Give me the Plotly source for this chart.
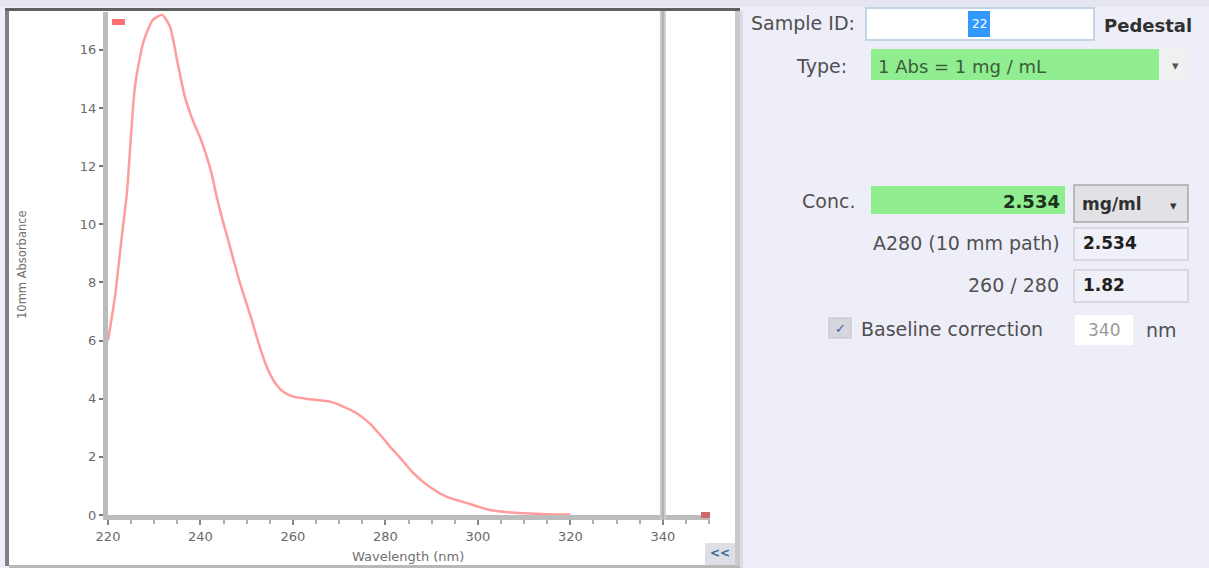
import plotly.graph_objects as go

# ---- data ----
wavelength = [220, 221.5, 223, 224.1, 225.8, 227.6, 229.7, 231.7, 233.4, 235.0, 236.6,
              238.4, 240.0, 241.0, 242.4, 243.5, 244.6, 246.0, 247.1, 248.5, 249.6, 251.1,
              252.1, 253.2, 254.2, 255.2, 256.1, 257.9, 260.1, 263.7, 268.0, 270.9,
              273.8, 276.6, 279.5, 281.0, 283.0, 286.0, 289.6, 293.3, 297.6, 302.6,
              306, 310, 315, 320]
absorbance = [6.0, 7.5, 9.6, 11.1, 14.7, 16.24, 17.03, 17.2, 16.8, 15.6, 14.4,
              13.55, 12.95, 12.5, 11.75, 10.95, 10.25, 9.45, 8.8, 8.0, 7.45, 6.7,
              6.15, 5.6, 5.15, 4.8, 4.55, 4.24, 4.07, 3.98, 3.9, 3.73,
              3.5, 3.15, 2.64, 2.35, 2.0, 1.45, 0.96, 0.62, 0.41, 0.17,
              0.1, 0.06, 0.03, 0.02]
x_ticks = [220, 240, 260, 280, 300, 320, 340]
y_ticks = [0, 2, 4, 6, 8, 10, 12, 14, 16]
x_range = [220, 350.2]
y_range = [0, 17.3]
baseline_nm = 340

panel_labels = ["Sample ID:", "Type:", "Conc.", "A280 (10 mm path)", "260 / 280"]
type_text = "1 Abs = 1 mg / mL"
conc_value = "2.534"
conc_unit = "mg/ml"
a280_value = "2.534"
ratio_value = "1.82"
baseline_text = "Baseline correction"

W, H = 1209, 568
L, R, T, B = 108, 710, 12, 515
FONT = "DejaVu Sans"


def px(x):
    return (x - L) / (R - L)


def py(y):
    return (B - y) / (B - T)


fig = go.Figure()
fig.add_trace(go.Scatter(x=wavelength, y=absorbance, mode="lines",
                         line=dict(color="#ff9c9c", width=2.5, shape="spline", smoothing=0.6),
                         hoverinfo="skip", showlegend=False, cliponaxis=False))

shapes = []


def rect(x0, y0, x1, y1, fill, line_color=None, lw=0, layer="below"):
    shapes.append(dict(type="rect", xref="paper", yref="paper",
                       x0=px(x0), x1=px(x1), y0=py(y1), y1=py(y0),
                       fillcolor=fill, layer=layer,
                       line=dict(color=line_color or fill, width=lw)))


# chart panel
rect(0, 0, 1209, 7, "#e6e6f0")
rect(9, 10, 736, 565, "#ffffff")
rect(5, 8, 9, 566, "#808080")
rect(5, 8, 740, 11, "#606060")
rect(9, 565, 740, 568, "#b8b8b8")
rect(735, 11, 740, 566, "#cacaca")
rect(740, 11, 743, 568, "#dcdce8")
# baseline line at 340 nm
shapes.append(dict(type="line", xref="x", yref="paper", x0=baseline_nm, x1=baseline_nm,
                   y0=py(520), y1=py(11), line=dict(color="#cccccc", width=6), layer="above"))
shapes.append(dict(type="line", xref="x", yref="paper", x0=baseline_nm, x1=baseline_nm,
                   y0=py(520), y1=py(11), line=dict(color="#b0b0b0", width=2), layer="above"))
# red handles
rect(112, 19, 125, 25, "#ff7070", layer="above")
rect(701, 512, 710, 518, "#d06a6a", layer="above")
# << button
rect(705, 543, 735, 565, "#dedee6")

# right panel widgets
rect(866, 8, 1094, 40, "#ffffff", "#c4d4e4", 2)
rect(968, 11, 990, 37, "#3399ff")
rect(871, 49, 1159, 80, "#90ee90")
rect(1161, 49, 1188, 81, "#f0f0f0")
rect(871, 186, 1065, 214, "#90ee90")
rect(1074, 185, 1188, 222, "#e2e2e6", "#a8a8a8", 1.5)
rect(1074, 228, 1188, 260, "#f0f0f8", "#d0d0d8", 1.5)
rect(1074, 270, 1188, 302, "#f0f0f8", "#d0d0d8", 1.5)
rect(829, 318, 851, 338, "#d6d6de", "#c0c0c8", 1)
rect(1075, 315, 1133, 345, "#ffffff")

ann = []


def text(x, y, s, size=19, color="#505050", anchor="left", bold=False, angle=0):
    ann.append(dict(x=px(x), y=py(y), xref="paper", yref="paper", text=(f"<b>{s}</b>" if bold else s),
                    showarrow=False, xanchor=anchor, yanchor="middle", textangle=angle,
                    font=dict(family=FONT, size=size, color=color)))


text(857, 23, panel_labels[0], anchor="right")
text(979, 24, "22", size=12, color="#ffffff", anchor="center")
text(1102, 25, "Pedestal", size=18, color="#303030", bold=True)
text(849, 66, panel_labels[1], anchor="right")
text(876, 66, type_text, size=18, color="#3c5c3c")
text(1175, 65, "▾", size=13, color="#555555", anchor="center")
text(857, 201, panel_labels[2], anchor="right")
text(1062, 201, conc_value, size=18, color="#203020", anchor="right", bold=True)
text(1080, 204, conc_unit, size=17, color="#303030", bold=True)
text(1173, 205, "▾", size=13, color="#333333", anchor="center")
text(1062, 243, panel_labels[3], anchor="right")
text(1081, 243, a280_value, size=17, color="#202020", bold=True)
text(1061, 285, panel_labels[4], anchor="right")
text(1081, 285, ratio_value, size=17, color="#202020", bold=True)
text(840, 328, "✓", size=13, color="#4060a0", anchor="center")
text(859, 329, baseline_text)
text(1104, 330, str(baseline_nm), size=17, color="#9a9a9a", anchor="center")
text(1144, 330, "nm")
# axis titles and button
text(408, 556, "Wavelength (nm)", size=13, color="#707070", anchor="center")
text(22, 265, "10mm Absorbance", size=11.5, color="#707070", anchor="center", angle=-90)
text(720, 553, "<b>&lt;&lt;</b>", size=12, color="#3a6a9a", anchor="center")

fig.update_layout(
    width=W, height=H,
    margin=dict(l=L, r=W - R, t=T, b=H - B, pad=0),
    paper_bgcolor="#eeeef8", plot_bgcolor="#ffffff",
    shapes=shapes, annotations=ann, showlegend=False,
    xaxis=dict(range=x_range, tickvals=x_ticks, showgrid=False, zeroline=False,
               showline=True, linecolor="#bcbcbc", linewidth=5,
               ticks="outside", ticklen=5, tickwidth=2, tickcolor="#888888",
               minor=dict(dtick=5, ticks="outside", ticklen=4, tickcolor="#b0b0b0", tickwidth=2),
               tickfont=dict(family=FONT, size=13, color="#6a6a6a")),
    yaxis=dict(range=y_range, tickvals=y_ticks, showgrid=False, zeroline=False,
               showline=True, linecolor="#bcbcbc", linewidth=5,
               ticks="outside", ticklen=4, tickwidth=2, tickcolor="#777777",
               tickfont=dict(family=FONT, size=13, color="#6a6a6a")),
)

fig.write_html("out.html", config={"displayModeBar": False},
               post_script="document.body.style.margin='0';document.body.style.overflow='hidden';")
